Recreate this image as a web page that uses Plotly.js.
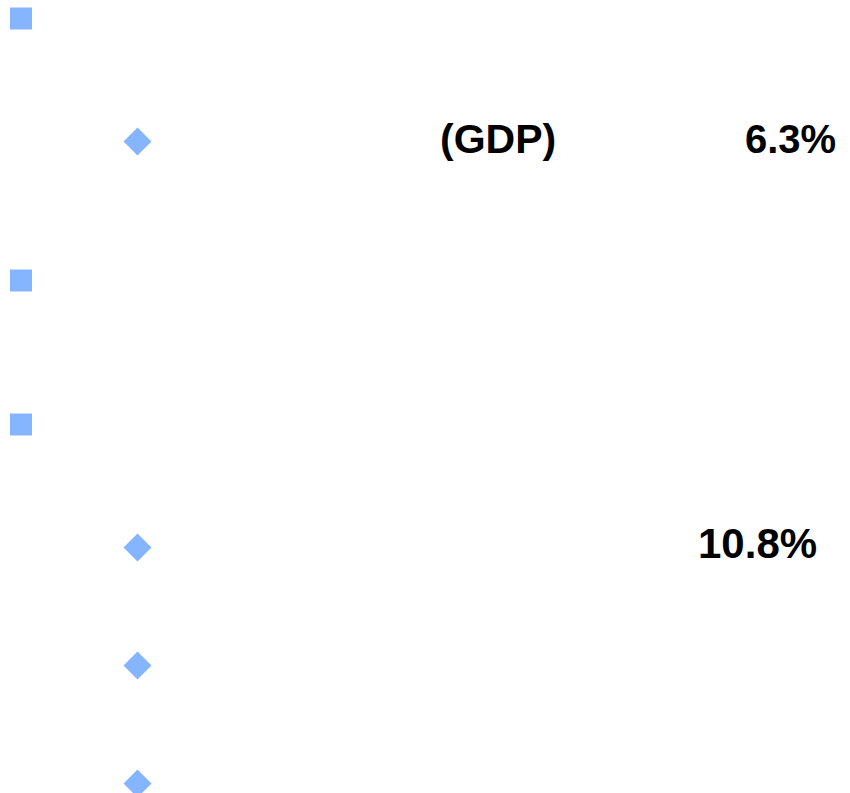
<!DOCTYPE html>
<html>
<head>
<meta charset="utf-8">
<script src="https://cdn.plot.ly/plotly-3.0.1.min.js"></script>
<style>html,body{margin:0;padding:0;background:#fff;}#chart{width:850px;height:793px;}</style>
</head>
<body>
<div id="chart"></div>
<script>
// Level-1 bullets (squares): slide positions
const squareX = [21, 21, 21];
const squareY = [18.5, 280.5, 424.5];
// Level-2 bullets (diamonds)
const diamondX = [137.5, 137.5, 137.5, 137.5];
const diamondY = [141.5, 547.5, 665.5, 783.5];
// Visible text fragments
const labels = ["(GDP)", "6.3%", "10.8%"];
const labelX = [438, 743, 696];
const labelY = [138.5, 138.5, 543];
const labelSize = [41, 40, 42];

const bulletColor = "#85B5FF";

const traces = [
  {x: squareX, y: squareY, type: "scatter", mode: "markers",
   marker: {symbol: "square", size: 22, color: bulletColor, line: {width: 0}},
   hoverinfo: "skip", showlegend: false},
  {x: diamondX, y: diamondY, type: "scatter", mode: "markers",
   marker: {symbol: "diamond", size: 21.5, color: bulletColor, line: {width: 0}},
   hoverinfo: "skip", showlegend: false}
];

const annotations = labels.map((t, i) => ({
  text: "<b>" + t + "</b>", x: labelX[i], y: labelY[i], xref: "x", yref: "y",
  xanchor: "left", yanchor: "middle", showarrow: false,
  font: {family: "Liberation Sans, Arial, sans-serif", size: labelSize[i], color: "#000000"}
}));

const layout = {
  width: 850, height: 793,
  margin: {l: 0, r: 0, t: 0, b: 0, pad: 0},
  paper_bgcolor: "#ffffff", plot_bgcolor: "#ffffff",
  xaxis: {range: [0, 850], visible: false, fixedrange: true},
  yaxis: {range: [793, 0], visible: false, fixedrange: true},
  annotations: annotations,
  showlegend: false
};

Plotly.newPlot("chart", traces, layout, {staticPlot: true, displayModeBar: false});
</script>
</body>
</html>
